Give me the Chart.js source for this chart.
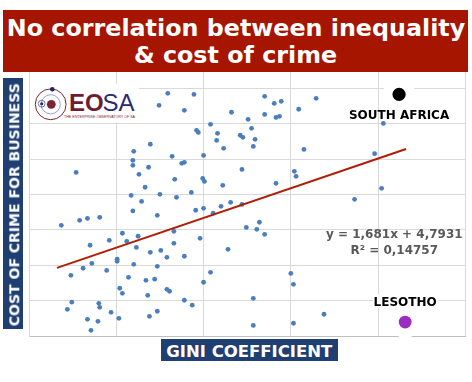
<!DOCTYPE html>
<html>
<head>
<meta charset="utf-8">
<script src="https://cdn.jsdelivr.net/npm/chart.js@4.4.1/dist/chart.umd.min.js"></script>
<style>
  html, body { margin:0; padding:0; background:#ffffff; }
  #wrap { position:relative; width:472px; height:382px; overflow:hidden; }
  #c { position:absolute; left:0; top:0; }
  #ov { position:absolute; left:0; top:0; pointer-events:none; }
</style>
</head>
<body>
<div id="wrap">
  <canvas id="c" width="472" height="382"></canvas>
  <svg id="ov" width="472" height="382" xmlns="http://www.w3.org/2000/svg">
    <!-- title -->
    <rect x="3" y="10" width="465" height="62" fill="#A51500"/>
    <text x="236" y="35.7" text-anchor="middle" font-family="DejaVu Sans" font-weight="bold" font-size="23.8" fill="#ffffff">No correlation between inequality</text>
    <text x="235.5" y="63.3" text-anchor="middle" font-family="DejaVu Sans" font-weight="bold" font-size="23.8" fill="#ffffff">&amp; cost of crime</text>
    <!-- y axis label -->
    <rect x="3" y="78" width="20" height="251" fill="#1F3F72"/>
    <text transform="translate(19.3,204.7) rotate(-90)" text-anchor="middle" font-family="DejaVu Sans" font-weight="bold" font-size="14" fill="#ffffff">COST OF CRIME FOR BUSINESS</text>
    <!-- x axis label -->
    <rect x="161" y="339" width="177" height="22" fill="#1F3F72"/>
    <text x="249.3" y="356.5" text-anchor="middle" font-family="DejaVu Sans" font-weight="bold" font-size="16.5" fill="#ffffff">GINI COEFFICIENT</text>
    <!-- logo -->
    <rect x="30" y="84" width="109" height="38" fill="#ffffff"/>
    <circle cx="50.7" cy="104.3" r="15.4" fill="none" stroke="#7A2435" stroke-width="1"/>
    <circle cx="50.7" cy="104.3" r="9.6" fill="none" stroke="#8A86B8" stroke-width="0.8"/>
    <circle cx="51.3" cy="104.3" r="4.4" fill="#7A2435"/>
    <circle cx="52.3" cy="89.3" r="2.3" fill="#23236B"/>
    <circle cx="41.7" cy="103.7" r="3.4" fill="none" stroke="#23236B" stroke-width="0.6"/>
    <circle cx="41.7" cy="103.7" r="1.5" fill="#23236B"/>
    <text x="69" y="111.3" font-family="Liberation Sans" font-weight="bold" font-size="24" fill="#6E1E32">EO</text>
    <text x="102.5" y="111.3" font-family="Liberation Sans" font-size="24" fill="#2A2A72">SA</text>
    <text x="64" y="117.6" font-family="Liberation Sans" font-size="3.4" textLength="71" lengthAdjust="spacingAndGlyphs" fill="#7A2435">THE ENTERPRISE OBSERVATORY OF SA</text>
  </svg>
</div>
<script>
// ---- data ----
const giniValues = [
  0.359,0.349,0.339,0.320,0.364,0.319,0.319,0.254,0.337,0.326,
  0.367,0.333,0.317,0.350,0.369,0.329,0.319,0.389,0.378,0.470,
  0.481,0.489,0.529,0.509,0.432,0.470,0.483,0.487,0.451,0.408,
  0.392,0.394,0.416,0.455,0.442,0.445,0.415,0.459,0.457,0.423,
  0.515,0.400,0.375,0.378,0.444,0.504,0.506,0.399,0.401,0.422,
  0.483,0.386,0.431,0.420,0.444,0.391,0.400,0.411,0.606,0.596,
  0.604,0.573,0.347,0.237,0.258,0.267,0.281,0.307,0.325,0.366,
  0.292,0.312,0.270,0.323,0.366,0.339,0.351,0.358,0.301,0.301,
  0.272,0.320,0.347,0.262,0.289,0.248,0.314,0.334,0.344,0.304,
  0.307,0.358,0.361,0.336,0.249,0.280,0.281,0.244,0.294,0.338,
  0.347,0.267,0.279,0.303,0.271,0.378,0.396,0.428,0.449,0.464,
  0.461,0.470,0.408,0.400,0.378,0.387,0.457,0.500,0.503,0.457,
  0.503,0.538
];
const crimeCost = [
  6.172,6.104,5.884,5.844,5.816,5.793,5.765,5.725,5.754,5.714,
  5.686,5.641,5.595,5.601,5.584,5.561,5.507,6.166,6.076,6.155,
  6.115,6.127,6.144,6.082,6.065,6.053,6.036,6.042,6.025,5.997,
  5.963,5.951,5.946,5.974,5.935,5.923,5.906,5.912,5.872,5.861,
  5.855,5.821,5.776,5.782,5.742,5.731,5.703,5.691,5.674,5.652,
  5.663,5.612,5.556,5.533,5.544,5.511,5.522,5.494,6.002,5.831,
  5.635,5.573,5.482,5.426,5.454,5.465,5.471,5.381,5.364,5.392,
  5.341,5.335,5.313,5.301,5.324,5.273,5.284,5.245,5.234,5.222,
  5.211,5.205,5.194,5.183,5.171,5.143,5.132,5.115,5.121,5.070,
  5.041,5.064,5.053,5.030,4.991,4.985,4.962,4.951,4.934,4.911,
  4.940,4.894,4.883,4.900,4.832,5.251,5.352,5.290,5.414,5.443,
  5.403,5.375,5.160,5.104,5.002,4.974,5.013,5.154,5.092,4.860,
  4.872,4.923
];
const southAfrica = { label: "SOUTH AFRICA", x: 0.624, y: 6.166 };
const lesotho     = { label: "LESOTHO",      x: 0.631, y: 4.879 };
const trendX = [0.232, 0.632];
const trendY = [5.185, 5.857];
const equationLines = ["y = 1,681x + 4,7931", "R\u00B2 = 0,14757"];
const equationAnchor = { x: 0.6185, y: [5.354, 5.262] };
const xTicks = [0.2, 0.3, 0.4, 0.5, 0.6, 0.7];
const yTicks = [4.8, 5.0, 5.2, 5.4, 5.6, 5.8, 6.0, 6.2, 6.4];

const pts = giniValues.map((g, i) => ({ x: g, y: crimeCost[i] }));
const trendPts = trendX.map((x, i) => ({ x: x, y: trendY[i] }));

const annot = {
  id: 'annot',
  beforeDatasetsDraw(chart) {
    const ctx = chart.ctx, xs = chart.scales.x, ys = chart.scales.y;
    ctx.save();
    ctx.fillStyle = '#ffffff';
    // label backgrounds
    const sx = xs.getPixelForValue(southAfrica.x), sy = ys.getPixelForValue(southAfrica.y);
    ctx.fillRect(sx - 15, sy - 8, 30, 16);
    const lx = xs.getPixelForValue(lesotho.x), ly = ys.getPixelForValue(lesotho.y);
    ctx.font = 'bold 12px "DejaVu Sans"';
    const lw = ctx.measureText(lesotho.label).width;
    ctx.fillRect(lx - lw / 2 - 1, ly - 28, lw + 2, 14);
    ctx.fillRect(lx - 6.5, ly + 10, 13, 6);
    const ex = xs.getPixelForValue(equationAnchor.x);
    const ey0 = ys.getPixelForValue(equationAnchor.y[0]);
    const ey1 = ys.getPixelForValue(equationAnchor.y[1]);
    ctx.restore();
  },
  afterDatasetsDraw(chart) {
    const ctx = chart.ctx, xs = chart.scales.x, ys = chart.scales.y;
    ctx.save();
    ctx.textAlign = 'center';
    ctx.textBaseline = 'alphabetic';
    ctx.font = 'bold 12px "DejaVu Sans"';
    ctx.fillStyle = '#000000';
    const sx = xs.getPixelForValue(southAfrica.x), sy = ys.getPixelForValue(southAfrica.y);
    ctx.fillText(southAfrica.label, sx, sy + 24.7);
    const lx = xs.getPixelForValue(lesotho.x), ly = ys.getPixelForValue(lesotho.y);
    ctx.fillText(lesotho.label, lx, ly - 16);
    ctx.fillStyle = '#595959';
    const ex = xs.getPixelForValue(equationAnchor.x);
    equationLines.forEach((t, i) => {
      ctx.fillText(t, ex, ys.getPixelForValue(equationAnchor.y[i]));
    });
    ctx.restore();
  }
};

new Chart(document.getElementById('c'), {
  type: 'scatter',
  data: {
    datasets: [
      { type: 'line', data: trendPts, borderColor: '#B01E06', borderWidth: 2, pointRadius: 0, fill: false, order: 0 },
      { data: pts, backgroundColor: '#4A7EBF', borderWidth: 0, pointRadius: 2.4, order: 3 },
      { data: [{ x: southAfrica.x, y: southAfrica.y }], backgroundColor: '#000000', borderWidth: 0, pointRadius: 6.6, order: 2 },
      { data: [{ x: lesotho.x, y: lesotho.y }], backgroundColor: '#9A2CC0', borderWidth: 0, pointRadius: 6.4, order: 2 }
    ]
  },
  options: {
    responsive: false,
    animation: false,
    devicePixelRatio: 1,
    layout: { padding: { left: 29, right: 3, top: 53, bottom: 46 } },
    plugins: { legend: { display: false }, tooltip: { enabled: false }, title: { display: false } },
    scales: {
      x: {
        type: 'linear', min: 0.2, max: 0.7,
        afterBuildTicks: (axis) => { axis.ticks = xTicks.map(v => ({ value: v })); },
        ticks: { display: false },
        grid: { color: '#D9D9D9', lineWidth: 1, drawTicks: false },
        border: { color: '#BFBFBF', width: 1 }
      },
      y: {
        type: 'linear', min: 4.8, max: 6.4,
        afterBuildTicks: (axis) => { axis.ticks = yTicks.map(v => ({ value: v })); },
        ticks: { display: false },
        grid: { color: '#D9D9D9', lineWidth: 1, drawTicks: false },
        border: { color: '#D9D9D9', width: 1 }
      }
    }
  },
  plugins: [annot]
});
</script>
</body>
</html>
